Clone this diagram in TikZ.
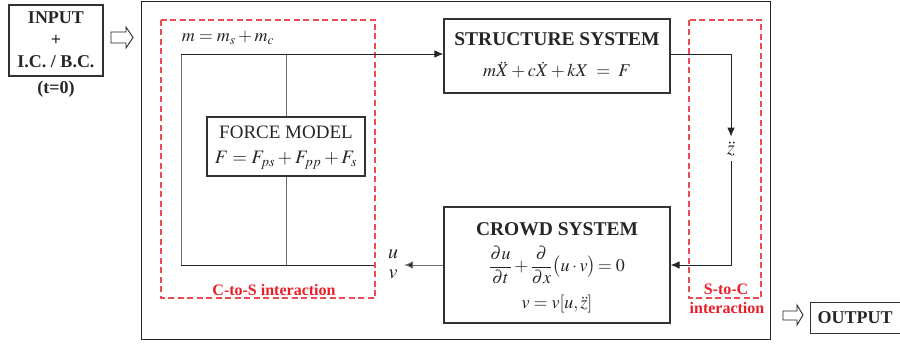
\documentclass[tikz,border=0pt]{standalone}
\usepackage{amsmath}
\usepackage{mathptmx}
\usepackage[no-math]{fontspec}
\setmainfont{Liberation Serif}
\usetikzlibrary{arrows.meta}
\definecolor{boxgray}{RGB}{50,50,50}
\definecolor{linegray}{RGB}{110,110,110}
\definecolor{dashred}{RGB}{235,75,85}
\definecolor{textred}{RGB}{235,30,40}
\newcommand\bigfont{\fontsize{18}{21}\selectfont}
\newcommand\titlefont{\fontsize{19.5}{22}\selectfont\bfseries}
\newcommand\redfont{\fontsize{16}{18}\selectfont\bfseries}
\tikzset{
  blockbox/.style={draw=boxgray, line width=1.1pt, minimum width=#1, inner sep=0pt},
  lbl/.style={font=\bigfont, inner sep=0pt, text=black!85},
  ttl/.style={font=\titlefont, inner sep=0pt, text=black!85},
  redlbl/.style={font=\redfont, inner sep=0pt, text=textred},
  reddash/.style={draw=dashred, line width=1.1pt, dash pattern=on 6pt off 3.5pt},
  conn/.style={draw=black!85, line width=0.9pt},
  grayconn/.style={draw=linegray, line width=1pt},
  tip/.style={-{Latex[length=9pt,width=7.5pt]}},
  hollow/.style={draw=black!85, line width=0.9pt, fill=white}
}
\begin{document}
\begin{tikzpicture}[x=1pt,y=-1pt]
\useasboundingbox (0,0) rectangle (900,345);
% main frame
\draw[draw=black!85, line width=1pt] (141,2) rectangle (770,339);
% input
\node[blockbox=94pt, minimum height=71pt] (input) at (56,40.5) {};
\node[lbl, font=\bigfont\bfseries] (inputT) at (56,18) {INPUT};
\node[lbl, font=\bigfont\bfseries] (plusT) at (56,40) {+};
\node[lbl, font=\bigfont\bfseries] (icbc) at (56,62) {I.C. / B.C.};
\node[lbl, font=\bigfont\bfseries] (t0) at (56,89) {(t=0)};
% input hollow arrow
\draw[hollow] (111,32) -- (126,32) -- (126,27) -- (133,37.5) -- (126,48) -- (126,43) -- (111,43) -- cycle;
% red dashed boxes
\draw[reddash] (161,20) rectangle (375,298);
\draw[reddash] (689,20) rectangle (761,298);
% structure
\node[blockbox=226pt, minimum height=74pt] (struct) at (557,56) {};
\node[ttl] (structT) at (557,39) {STRUCTURE SYSTEM};
\node[lbl] (structE) at (557,70) {$m\ddot{X} + c\dot{X} + kX \;=\; F$};
% force model
\node[blockbox=158pt, minimum height=59pt] (force) at (286,146.5) {};
\node[lbl, font=\fontsize{19}{22}\selectfont] (forceT) at (286,132) {FORCE MODEL};
\node[lbl, font=\fontsize{19}{22}\selectfont] (forceE) at (286,160) {$F = F_{ps} + F_{pp} + F_{s}$};
% crowd
\node[blockbox=226pt, minimum height=116pt] (crowd) at (557,265) {};
\node[ttl] (crowdT) at (557,229) {CROWD SYSTEM};
\node[lbl] (crowdE) at (557,265) {$\dfrac{\partial u}{\partial t} + \dfrac{\partial}{\partial x}\bigl(u\cdot v\bigr)\!= 0$};
\node[lbl] (crowdV) at (557,304) {$v = v[u,\ddot{z}]$};
% mass label
\node[lbl] (mass) at (228,38) {$m = m_{s} + m_{c}$};
% loop coordinates
\coordinate (tl) at (181,54);
\coordinate (tm) at (286,54);
\coordinate (bl) at (181,265);
\coordinate (bm) at (286,265);
\coordinate (br) at (374,265);
\coordinate (sr) at (731,54);
\coordinate (cr) at (731,265);
% z double dot
\node[lbl, font=\fontsize{20}{22}\selectfont] (zdd) at (731,149) {$\ddot{z}$};
% u v
\node[lbl, font=\fontsize{20}{22}\selectfont] (uL) at (393,254) {$u$};
\node[lbl, font=\fontsize{20}{22}\selectfont] (vL) at (393,274) {$v$};
\coordinate (uvtip) at (404,265);
% connectors
\draw[grayconn] (bl) -- (tl);
\draw[grayconn] (tm) -- (force.north);
\draw[grayconn] (force.south) -- (bm);
\draw[conn, tip] (tl) -- (struct.west |- tl);
\draw[conn] (bl) -- (br);
\draw[conn, tip] (struct.east |- sr) -- (sr) -- ([yshift=5pt]zdd.north);
\draw[conn, tip] ([yshift=-5pt]zdd.south) -- (cr) -- (crowd.east);
\draw[grayconn, -{Latex[length=9pt,width=7.5pt,fill=black!85]}] (crowd.west) -- (uvtip);
% red labels
\node[redlbl] (ctos) at (274,290) {C-to-S interaction};
\node[redlbl] (stoc) at (726,289) {S-to-C};
\node[redlbl] (inter) at (727,308) {interaction};
% output
\draw[hollow] (783,311) -- (797,311) -- (797,305) -- (803,315) -- (797,325) -- (797,320) -- (783,320) -- cycle;
\node[blockbox=92pt, minimum height=31pt, anchor=west] (output) at (810,318) {};
\node[lbl, font=\bigfont\bfseries] (outT) at (855,318) {OUTPUT};
\end{tikzpicture}
\end{document}
